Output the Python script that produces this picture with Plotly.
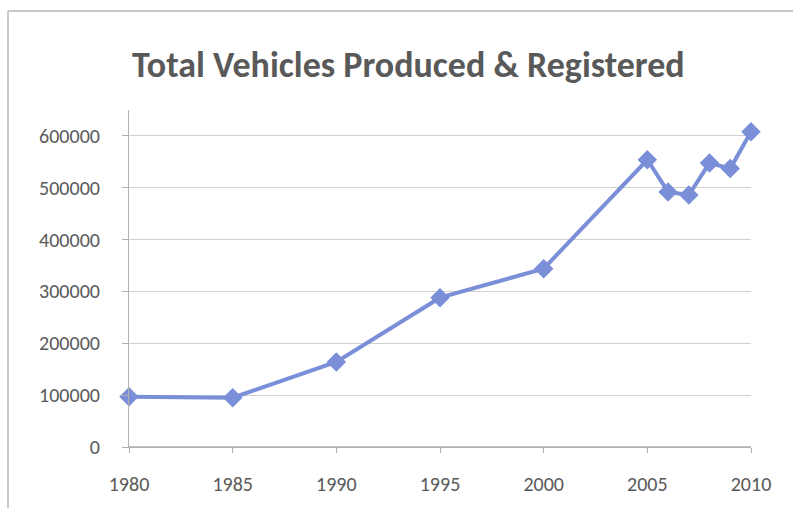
import plotly.graph_objects as go

years = [1980, 1985, 1990, 1995, 2000, 2005, 2006, 2007, 2008, 2009, 2010]
vehicles = [97000, 95000, 164000, 288000, 344000, 554000, 492000, 486000, 548000, 537000, 608000]
x_ticks = [1980, 1985, 1990, 1995, 2000, 2005, 2010]
y_ticks = [0, 100000, 200000, 300000, 400000, 500000, 600000]
title_text = "Total Vehicles Produced & Registered"

FONT = "Calibri, Carlito, Lato, sans-serif"
GRAY = "#595959"
AXIS = "#b0b0b0"
PAD = "\u00a0" * 4

fig = go.Figure()
fig.add_trace(go.Scatter(
    x=years, y=vehicles, mode="lines+markers",
    line=dict(color="#7b8ed8", width=4),
    marker=dict(symbol="diamond", size=15, color="#7b8ed8"),
    showlegend=False, cliponaxis=False,
))

fig.update_layout(
    width=793, height=508,
    margin=dict(l=129, r=42, t=110, b=61),
    paper_bgcolor="white", plot_bgcolor="rgba(0,0,0,0)",
    title=dict(text="<b>" + title_text + "</b>", x=0.515, xanchor="center",
               y=1 - 64 / 508, yanchor="middle",
               font=dict(family=FONT, size=36, color=GRAY)),
    xaxis=dict(range=[1980, 2010], tickvals=x_ticks, ticktext=[str(v) for v in x_ticks],
               showgrid=False, zeroline=False, showline=True, linecolor=AXIS, linewidth=1,
               ticks="outside", ticklen=5, tickcolor=AXIS, tickwidth=1,
               ticklabelstandoff=14,
               tickfont=dict(family=FONT, size=20, color=GRAY)),
    yaxis=dict(range=[0, 650000], tickvals=y_ticks, ticktext=[str(v) + PAD for v in y_ticks],
               showgrid=True, gridcolor="#d0d0d0", gridwidth=1,
               zeroline=False,
               showline=True, linecolor=AXIS, linewidth=1,
               ticks="outside", ticklen=6, tickcolor=AXIS, tickwidth=1,
               tickfont=dict(family=FONT, size=20, color=GRAY)),
    shapes=[
        # bottom axis line (drawn as a shape so it stays visible)
        dict(type="line", xref="paper", yref="paper", x0=0, x1=1, y0=0, y1=0,
             layer="above", line=dict(color=AXIS, width=1.5)),
        # chart frame (left and top edges)
        dict(type="line", xref="paper", yref="paper",
             x0=(8 - 129) / 622, x1=(8 - 129) / 622, y0=(447 - 11) / 337, y1=(447 - 520) / 337,
             line=dict(color="#c8c8c8", width=2)),
        dict(type="line", xref="paper", yref="paper",
             x0=(8 - 129) / 622, x1=(800 - 129) / 622, y0=(447 - 11) / 337, y1=(447 - 11) / 337,
             line=dict(color="#c8c8c8", width=2)),
    ],
)

fig.write_html("out.html")
